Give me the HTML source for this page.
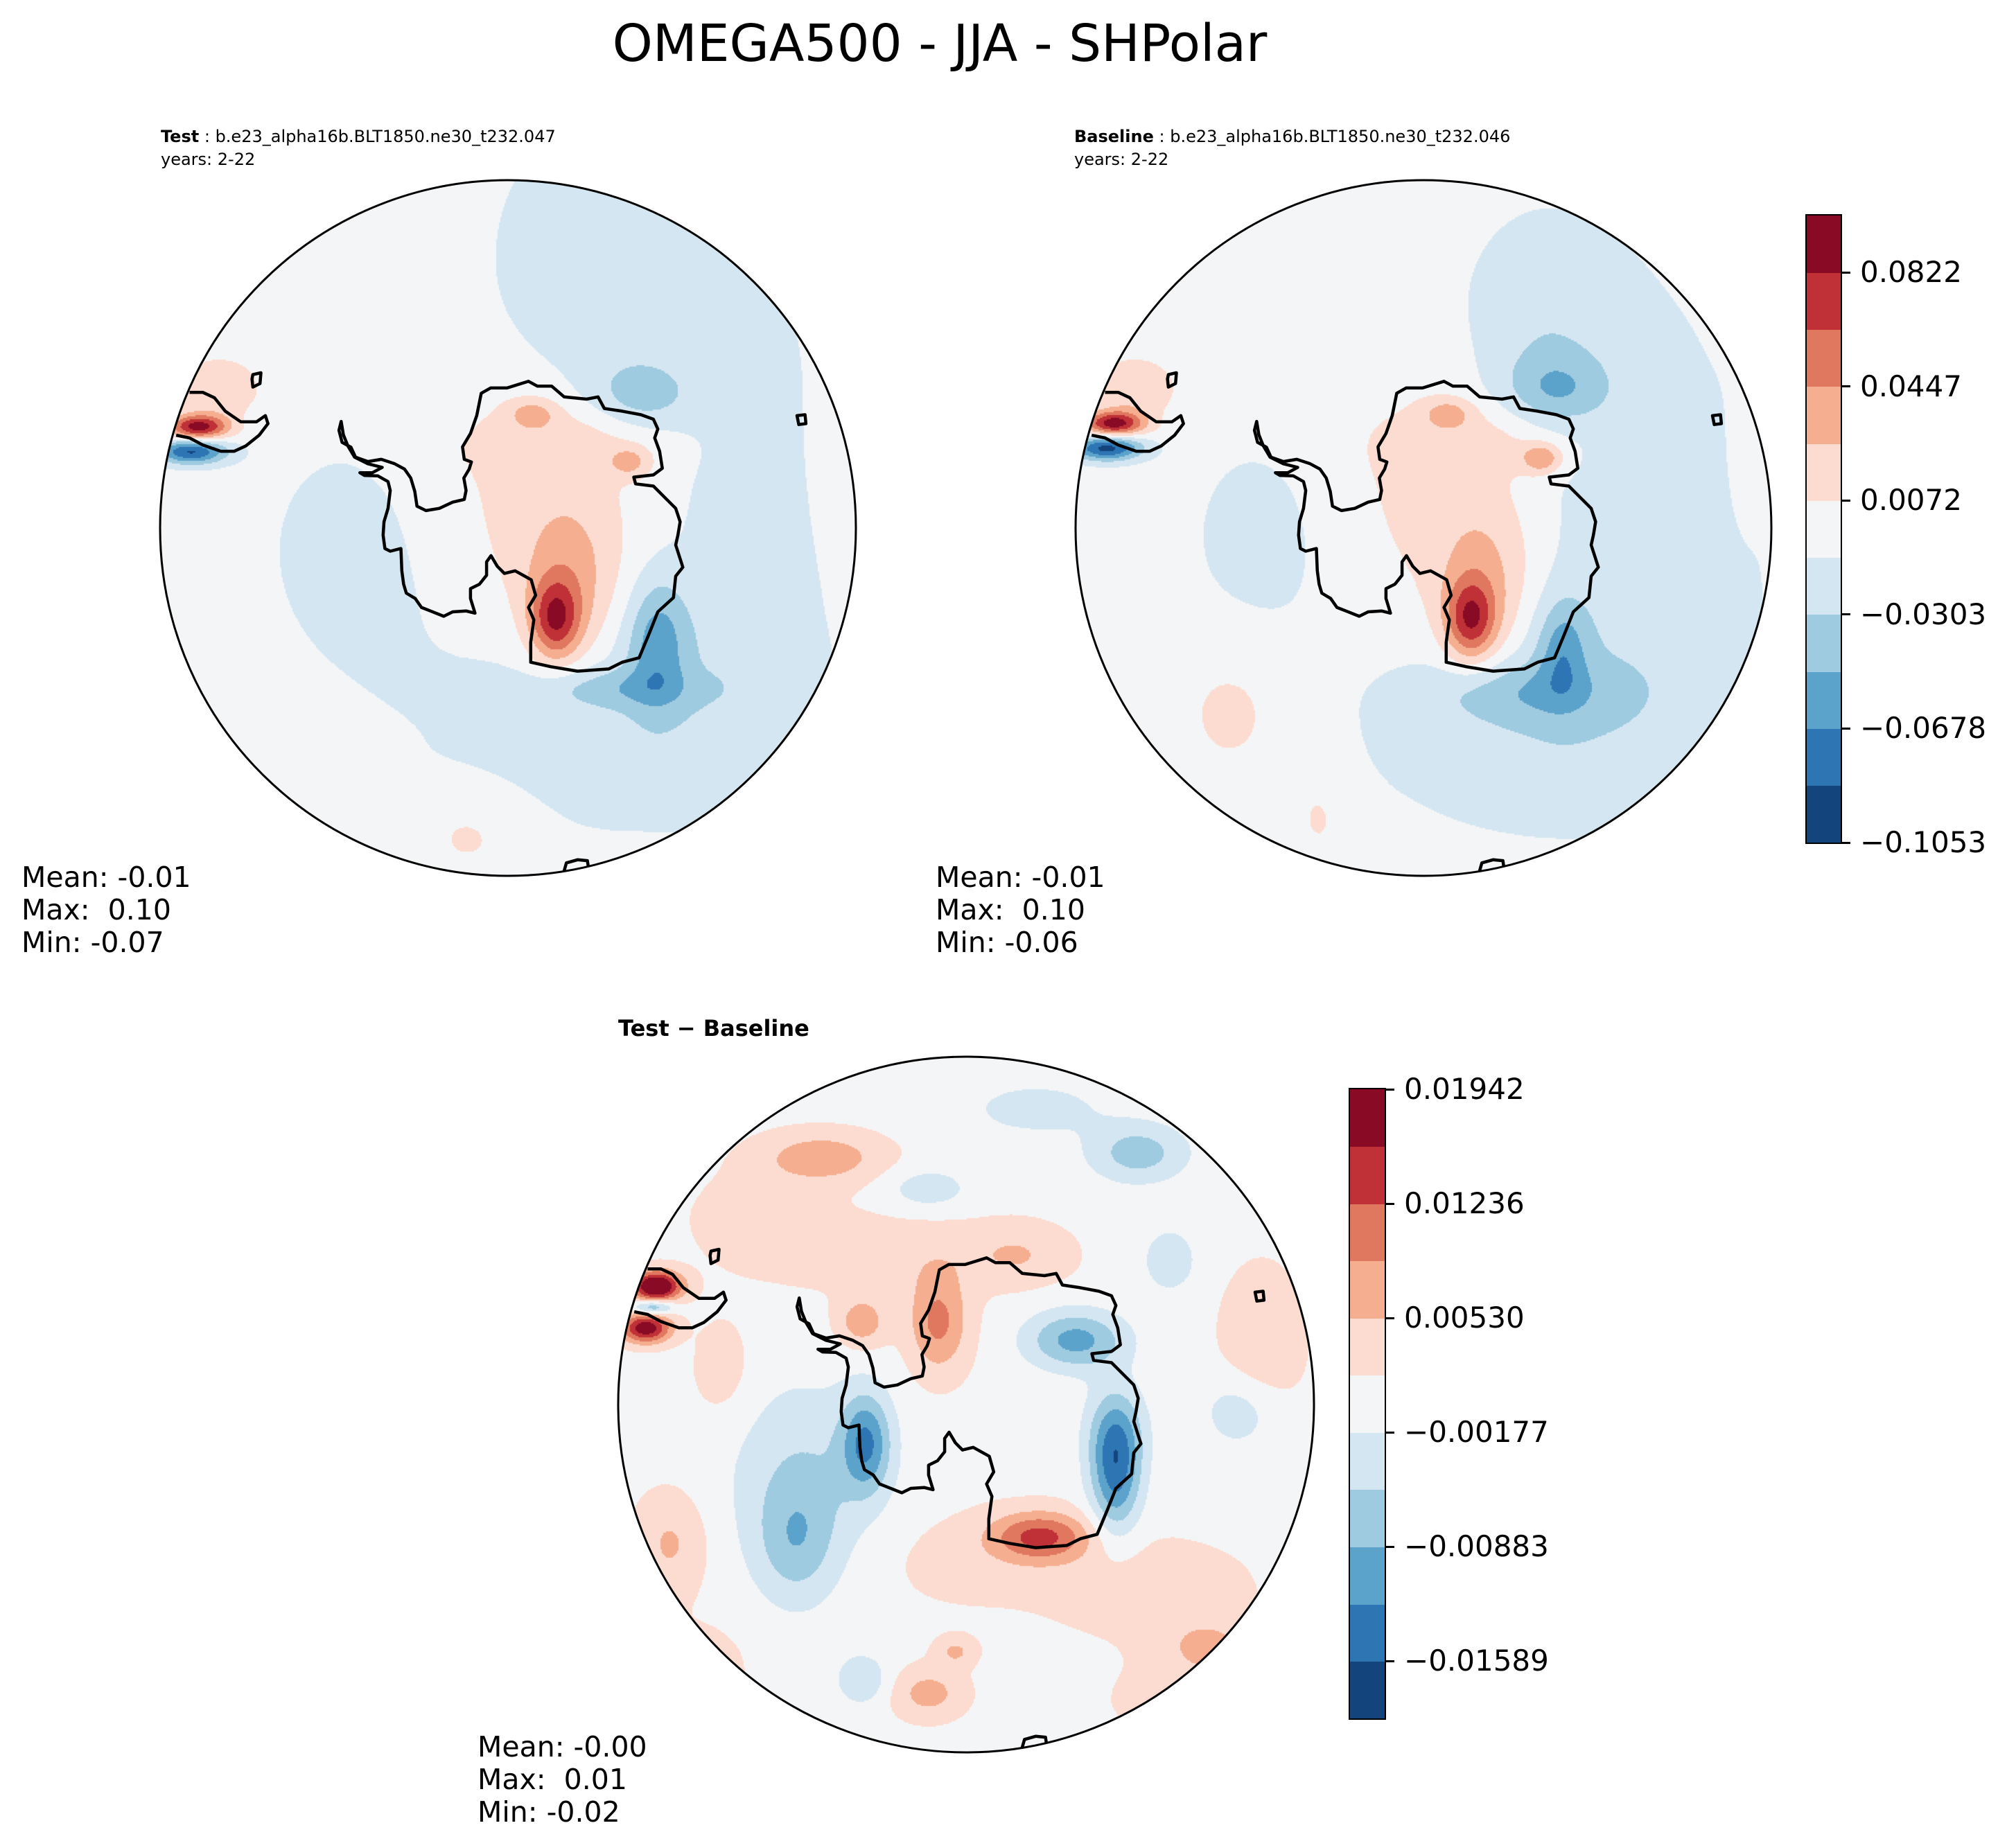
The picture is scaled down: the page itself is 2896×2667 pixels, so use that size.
<!DOCTYPE html>
<html><head><meta charset="utf-8">
<style>
html,body{margin:0;padding:0;background:#fff;}
body{width:2896px;height:2667px;position:relative;overflow:hidden;font-family:"DejaVu Sans","Liberation Sans",sans-serif;color:#000;}
.abs{position:absolute;}
.t{white-space:pre;line-height:1;}
canvas{position:absolute;}
svg{position:absolute;left:0;top:0;}
</style></head><body>
<div class="abs t" style="left:0;width:2712px;top:26px;text-align:center;font-size:74px;">OMEGA500 - JJA - SHPolar</div>

<div class="abs t" style="left:232px;top:185px;font-size:24px;"><b>Test</b> : b.e23_alpha16b.BLT1850.ne30_t232.047</div>
<div class="abs t" style="left:232px;top:218px;font-size:24px;">years: 2-22</div>
<div class="abs t" style="left:1550px;top:185px;font-size:24px;"><b>Baseline</b> : b.e23_alpha16b.BLT1850.ne30_t232.046</div>
<div class="abs t" style="left:1550px;top:218px;font-size:24px;">years: 2-22</div>
<div class="abs t" style="left:892px;top:1468px;font-size:32px;font-weight:bold;">Test &#8722; Baseline</div>

<div class="abs t" style="left:31px;top:1243px;font-size:41px;line-height:47px;">Mean: -0.01
Max:  0.10
Min: -0.07</div>
<div class="abs t" style="left:1350px;top:1243px;font-size:41px;line-height:47px;">Mean: -0.01
Max:  0.10
Min: -0.06</div>
<div class="abs t" style="left:689px;top:2498px;font-size:41px;line-height:47px;">Mean: -0.00
Max:  0.01
Min: -0.02</div>

<canvas id="c1" width="1010" height="1010" style="left:228px;top:257px;"></canvas>
<canvas id="c2" width="1010" height="1010" style="left:1549px;top:257px;"></canvas>
<canvas id="c3" width="1010" height="1010" style="left:889px;top:1522px;"></canvas>
<svg id="ov" width="2896" height="2667"></svg>
<div id="cb1"></div>
<div id="cb2"></div>

<script>
// ---- data ----
const mainLevelMin = -0.1053;
const mainLevelStep = 0.01875;
const mainTicks = [0.0822, 0.0447, 0.0072, -0.0303, -0.0678, -0.1053];
const mainTickLabels = ["0.0822","0.0447","0.0072","\u22120.0303","\u22120.0678","\u22120.1053"];
const diffLevelMin = -0.01942;
const diffLevelStep = 0.003531;
const diffTicks = [0.01942, 0.01236, 0.00530, -0.00177, -0.00883, -0.01589];
const diffTickLabels = ["0.01942","0.01236","0.00530","\u22120.00177","\u22120.00883","\u22120.01589"];
const bandColors = ["#13457c","#2e75b4","#5ba3cb","#9fcbe1","#d4e6f1","#f4f5f6","#fcdcd0","#f5ae8f","#e07860","#bf3136","#880a24"];
const baseTest = -0.004;
const baseBaseline = -0.004;
const baseDiff = 0.0008;
// blobs: [u, v, su, sv, amplitude]
const testBlobs = [
 [0.42,-0.35,0.34,0.55,-0.015],[0.22,-0.75,0.16,0.25,-0.014],[0.30,0.56,0.42,0.22,-0.017],
 [-0.42,0.05,0.20,0.25,-0.016],[0.68,0.15,0.14,0.38,-0.012],
 [0.14,-0.10,0.30,0.27,0.024],[0.21,-0.25,0.20,0.07,0.016],[0.07,-0.33,0.05,0.03,0.030],[0.35,-0.19,0.04,0.03,0.030],
 [0.136,0.264,0.05,0.08,0.070],[0.174,0.17,0.10,0.17,0.035],
 [0.43,0.33,0.06,0.13,-0.045],[0.30,0.46,0.16,0.04,-0.025],[0.38,-0.38,0.10,0.07,-0.030],
 [-0.89,-0.29,0.06,0.025,0.095],[-0.91,-0.22,0.07,0.025,-0.085],[-0.83,-0.40,0.08,0.06,0.030],
 [-0.11,0.88,0.12,0.10,0.016],[-0.49,0.61,0.10,0.04,0.013],[0.94,-0.24,0.04,0.15,0.013],[-0.74,0.44,0.03,0.05,0.012]
];
const baselineBlobs = [
 [0.42,-0.30,0.30,0.42,-0.015],[0.34,-0.55,0.13,0.20,-0.014],[0.55,0.15,0.30,0.38,-0.016],
 [0.33,0.58,0.38,0.20,-0.018],[0.28,0.47,0.18,0.06,-0.026],[-0.45,0.02,0.16,0.22,-0.016],
 [0.14,-0.10,0.30,0.27,0.024],[0.21,-0.25,0.20,0.07,0.016],[0.07,-0.33,0.05,0.03,0.030],[0.34,-0.20,0.04,0.03,0.045],
 [0.136,0.264,0.05,0.08,0.070],[0.174,0.17,0.10,0.17,0.035],
 [0.40,0.35,0.05,0.10,-0.038],[0.38,-0.40,0.10,0.07,-0.030],
 [-0.89,-0.30,0.06,0.025,0.095],[-0.91,-0.23,0.07,0.025,-0.090],[-0.83,-0.40,0.08,0.06,0.030],
 [-0.55,0.53,0.12,0.15,0.016],[-0.30,0.83,0.06,0.10,0.014],[-0.12,0.93,0.06,0.05,0.013],[0.93,-0.20,0.03,0.12,0.012]
];
const diffBlobs = [
 [-0.287,0.11,0.05,0.10,-0.012],[0.315,-0.185,0.10,0.06,-0.011],[0.43,0.21,0.05,0.12,-0.012],[0.43,0.08,0.06,0.10,-0.008],
 [0.213,0.38,0.10,0.05,0.012],[-0.08,-0.236,0.06,0.10,0.009],[-0.30,-0.236,0.05,0.05,0.007],
 [-0.89,-0.34,0.05,0.03,0.022],[-0.92,-0.22,0.05,0.03,0.018],[-0.90,-0.28,0.04,0.015,-0.012],
 [-0.467,0.213,0.15,0.20,-0.006],[-0.49,0.405,0.08,0.12,-0.006],[0.495,-0.723,0.10,0.06,-0.008],
 [0.585,-0.415,0.05,0.06,-0.006],[-0.108,-0.62,0.08,0.04,-0.005],[-0.415,-0.71,0.12,0.05,0.007],
 [-0.108,0.83,0.07,0.05,0.006],[-0.03,0.71,0.04,0.03,0.005],[0.53,0.53,0.20,0.10,0.003],
 [0.85,-0.17,0.08,0.15,0.004],[-0.85,0.40,0.07,0.10,0.005],[-0.236,-0.43,0.25,0.08,0.003],
 [0.15,-0.43,0.10,0.06,0.004],[0.79,0.02,0.08,0.08,-0.005],[-0.30,0.79,0.05,0.05,-0.006],
 [0.20,-0.85,0.15,0.06,-0.004],[0.70,0.70,0.10,0.06,0.005],[-0.70,-0.10,0.06,0.10,0.003],
 [-0.60,-0.55,0.15,0.10,0.002],[0.0,0.45,0.20,0.10,0.002],[0.60,0.85,0.15,0.08,0.002],[-0.75,0.75,0.10,0.10,0.002]
];
// Antarctica coastline (reference-pixel frame, circle center 784, radius 780)
const coastAntarctica = [[410,545],[405,565],[412,592],[432,603],[442,625],[470,635],[500,630],[530,640],[552,652],[566,672],[575,702],[580,735],[600,745],[630,740],[660,726],[686,720],[690,700],[685,672],[697,652],[702,636],[686,630],[682,602],[700,572],[714,532],[724,482],[745,470],[782,470],[830,455],[850,466],[882,466],[910,490],[960,495],[986,490],[1000,516],[1040,522],[1082,530],[1110,540],[1120,562],[1113,582],[1124,612],[1130,650],[1110,665],[1066,670],[1070,685],[1110,690],[1140,720],[1160,740],[1170,770],[1165,800],[1160,822],[1176,872],[1160,892],[1155,940],[1120,972],[1100,1022],[1078,1075],[1040,1085],[1010,1100],[940,1105],[880,1095],[835,1085],[835,1040],[842,990],[830,962],[846,935],[836,900],[800,880],[776,886],[760,870],[746,846],[736,860],[736,890],[720,910],[700,920],[700,942],[710,975],[690,970],[660,972],[640,982],[610,970],[590,962],[576,942],[556,930],[550,910],[546,880],[544,830],[520,836],[508,830],[504,800],[506,770],[515,740],[520,700],[515,680],[492,667],[462,666],[452,660],[480,660],[502,648],[470,640],[440,625],[425,600],[415,575],[410,545]];
const coastSouthAmerica = [[70,480],[100,480],[126,492],[150,522],[185,546],[220,546],[240,532],[246,550],[226,576],[196,600],[170,612],[140,612],[100,598],[70,582],[40,576]];
const islandA = [[212,440],[230,436],[228,460],[212,468],[210,450]];
const islandB = [[1432,532],[1450,530],[1452,550],[1436,552]];
const islandC = [[905,1570],[915,1535],[940,1528],[962,1530],[968,1570]];

// ---- rendering ----
const NS="http://www.w3.org/2000/svg";
const ov=document.getElementById('ov');
function field(blobs, base, u, v){
  let s=base;
  for(const b of blobs){const dx=(u-b[0])/b[2], dy=(v-b[1])/b[3]; const e=dx*dx+dy*dy; if(e<12) s+=b[4]*Math.exp(-0.5*e);}
  return s;
}
function levelColor(val,min,step){
  let k=Math.floor((val-min)/step); if(k<0)k=0; if(k>10)k=10; return bandColors[k];
}
function drawMap(id, blobs, base, min, step, cx, cy, name){
  const c=document.getElementById(id), ctx=c.getContext('2d');
  const R=502, o=505, st=2;
  for(let y=0;y<1010;y+=st){for(let x=0;x<1010;x+=st){
    const u=(x+st/2-o)/R, v=(y+st/2-o)/R;
    if(u*u+v*v>1.01) continue;
    ctx.fillStyle=levelColor(field(blobs,base,u,v),min,step);
    ctx.fillRect(x,y,st,st);
  }}
  ctx.globalCompositeOperation='destination-in';
  ctx.beginPath();ctx.arc(o,o,R,0,Math.PI*2);ctx.fill();
  ctx.globalCompositeOperation='source-over';
  const g=document.createElementNS(NS,'g');
  
  
  const clipId='clip'+id;
  const cp=document.createElementNS(NS,'clipPath'); cp.setAttribute('id',clipId);
  const cc=document.createElementNS(NS,'circle'); cc.setAttribute('cx',cx);cc.setAttribute('cy',cy);cc.setAttribute('r',R);
  cp.appendChild(cc); ov.appendChild(cp);
  g.setAttribute('clip-path','url(#'+clipId+')');
  const sc=R/780;
  const lines=[[coastAntarctica,true],[coastSouthAmerica,false],[islandA,true],[islandB,true],[islandC,false]];
  for(const [pts,closed] of lines){
    const p=document.createElementNS(NS,closed?'polygon':'polyline');
    p.setAttribute('points',pts.map(q=>((q[0]-784)*sc+cx).toFixed(1)+','+((q[1]-784)*sc+cy).toFixed(1)).join(' '));
    p.setAttribute('fill','none');p.setAttribute('stroke','#000');p.setAttribute('stroke-width','4.5');p.setAttribute('stroke-linejoin','round');
    
    
    g.appendChild(p);
  }
  ov.appendChild(g);
  const ring=document.createElementNS(NS,'circle');
  ring.setAttribute('cx',cx);ring.setAttribute('cy',cy);ring.setAttribute('r',R);
  ring.setAttribute('fill','none');ring.setAttribute('stroke','#000');ring.setAttribute('stroke-width','3');
  
  
  ov.appendChild(ring);
}
drawMap('c1',testBlobs,baseTest,mainLevelMin,mainLevelStep,733,762,'test-map');
drawMap('c2',baselineBlobs,baseBaseline,mainLevelMin,mainLevelStep,2054,762,'baseline-map');
drawMap('c3',diffBlobs,baseDiff,diffLevelMin,diffLevelStep,1394,2027,'diff-map');

function drawColorbar(id,left,top,w,h,min,step,ticks,labels){
  const el=document.getElementById(id);
  el.style.cssText='position:absolute;left:'+left+'px;top:'+top+'px;width:'+w+'px;height:'+h+'px;';
  const n=bandColors.length, bh=h/n, vmax=min+n*step;
  for(let i=0;i<n;i++){
    const d=document.createElement('div');
    
    
    d.style.cssText='position:absolute;left:0;width:'+w+'px;top:'+(h-(i+1)*bh)+'px;height:'+(bh+0.6)+'px;background:'+bandColors[i]+';';
    el.appendChild(d);
  }
  const fr=document.createElement('div');
  
  
  fr.style.cssText='position:absolute;left:-2px;top:-2px;width:'+w+'px;height:'+h+'px;border:2.5px solid #000;';
  el.appendChild(fr);
  ticks.forEach((t,i)=>{
    const y=(vmax-t)/(vmax-min)*h;
    const tk=document.createElement('div');
    
    
    tk.style.cssText='position:absolute;left:'+w+'px;top:'+(y-1.5)+'px;width:14px;height:3px;background:#000;';
    el.appendChild(tk);
    const lb=document.createElement('div');
    
    
    lb.textContent=labels[i];
    lb.style.cssText='position:absolute;left:'+(w+28)+'px;top:'+(y-25)+'px;font-size:42px;line-height:50px;white-space:pre;';
    el.appendChild(lb);
  });
}
drawColorbar('cb1',2607,311,49,905,mainLevelMin,mainLevelStep,mainTicks,mainTickLabels);
drawColorbar('cb2',1948,1572,50,908,diffLevelMin,diffLevelStep,diffTicks,diffTickLabels);
</script>
</body></html>
